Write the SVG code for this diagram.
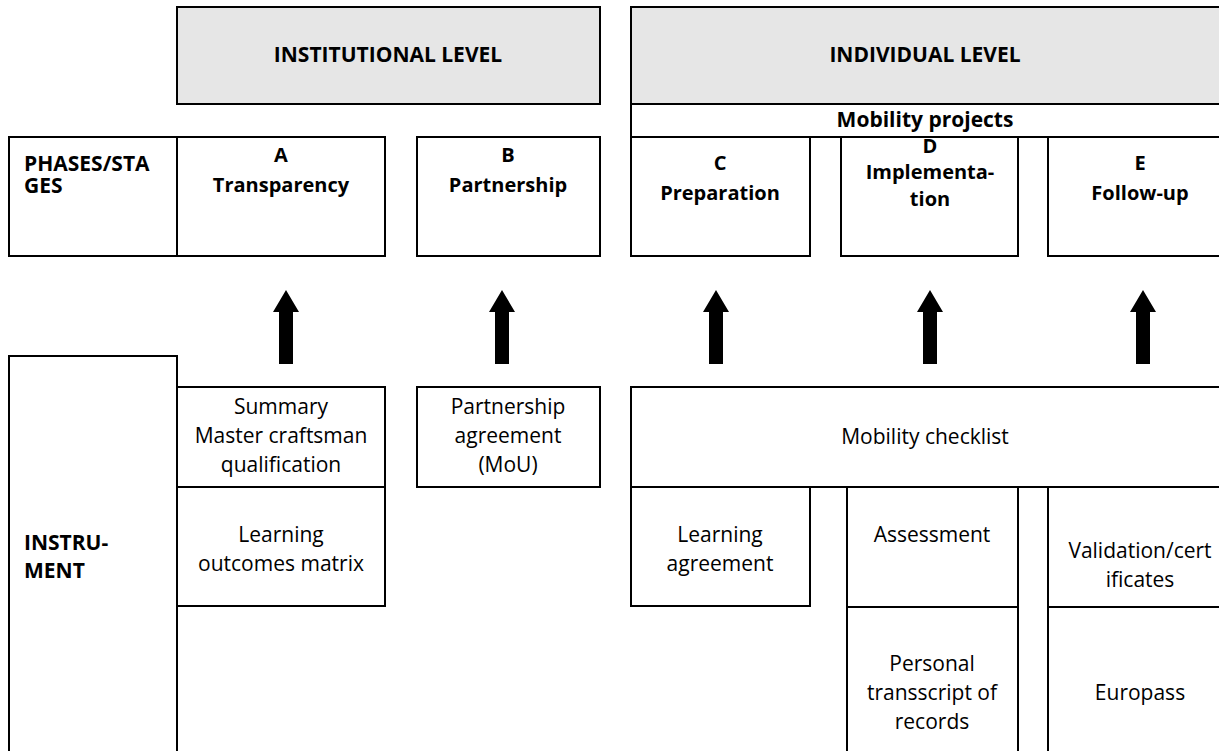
<svg xmlns="http://www.w3.org/2000/svg" width="1219" height="751" viewBox="0 0 1219 751">
<style>
.b{fill:#fff;stroke:#000;stroke-width:2}
.g{fill:#e6e6e6;stroke:#000;stroke-width:2}
text{font-family:"Open Sans","Noto Sans","DejaVu Sans",sans-serif;font-size:21px;fill:#000}
.c{text-anchor:middle}
.h{font-weight:bold}
.p{font-weight:bold;font-size:20px}
.ar{fill:#000}
</style>
<rect width="1219" height="751" fill="#fff"/>
<g id="institutional"><rect class="g" x="177" y="7" width="423" height="97"/><text class="c h" x="388" y="62">INSTITUTIONAL LEVEL</text></g>
<g id="individual"><rect class="g" x="631" y="7" width="600" height="97"/><text class="c h" x="925" y="62">INDIVIDUAL LEVEL</text></g>
<g id="mobility-projects"><rect class="b" x="631" y="104" width="600" height="33"/><text class="c h" x="925" y="127">Mobility projects</text></g>
<g id="phases"><rect class="b" x="9" y="137" width="168" height="119"/><text class="h" x="24" y="171">PHASES/STA</text><text class="h" x="24" y="193">GES</text></g>
<g id="phase-a"><rect class="b" x="177" y="137" width="208" height="119"/><text class="c p" x="281" y="162">A</text><text class="c p" x="281" y="192">Transparency</text></g>
<g id="phase-b"><rect class="b" x="417" y="137" width="183" height="119"/><text class="c p" x="508" y="162">B</text><text class="c p" x="508" y="192">Partnership</text></g>
<g id="phase-c"><rect class="b" x="631" y="137" width="179" height="119"/><text class="c p" x="720" y="170">C</text><text class="c p" x="720" y="200">Preparation</text></g>
<g id="phase-d"><rect class="b" x="841" y="137" width="177" height="119"/><text class="c p" x="930" y="153">D</text><text class="c p" x="930" y="179">Implementa-</text><text class="c p" x="930" y="206">tion</text></g>
<g id="phase-e"><rect class="b" x="1048" y="137" width="183" height="119"/><text class="c p" x="1140" y="170">E</text><text class="c p" x="1140" y="200">Follow-up</text></g>
<g id="connectors">
<polygon class="ar" points="286,290 299,312 293,312 293,364 279,364 279,312 273,312"/>
<polygon class="ar" points="502,290 515,312 509,312 509,364 495,364 495,312 489,312"/>
<polygon class="ar" points="716,290 729,312 723,312 723,364 709,364 709,312 703,312"/>
<polygon class="ar" points="930,290 943,312 937,312 937,364 923,364 923,312 917,312"/>
<polygon class="ar" points="1143,290 1156,312 1150,312 1150,364 1136,364 1136,312 1130,312"/>
</g>
<g id="instrument"><rect class="b" x="9" y="356" width="168" height="410"/><text class="h" x="24" y="550">INSTRU-</text><text class="h" x="24" y="578">MENT</text></g>
<g id="summary"><rect class="b" x="177" y="387" width="208" height="100"/><text class="c" x="281" y="414">Summary</text><text class="c" x="281" y="443">Master craftsman</text><text class="c" x="281" y="472">qualification</text></g>
<g id="lo-matrix"><rect class="b" x="177" y="487" width="208" height="119"/><text class="c" x="281" y="542">Learning</text><text class="c" x="281" y="571">outcomes matrix</text></g>
<g id="partnership-agreement"><rect class="b" x="417" y="387" width="183" height="100"/><text class="c" x="508" y="414">Partnership</text><text class="c" x="508" y="443">agreement</text><text class="c" x="508" y="472">(MoU)</text></g>
<g id="mobility-checklist"><rect class="b" x="631" y="387" width="600" height="100"/><text class="c" x="925" y="444">Mobility checklist</text></g>
<g id="learning-agreement"><rect class="b" x="631" y="487" width="179" height="119"/><text class="c" x="720" y="542">Learning</text><text class="c" x="720" y="571">agreement</text></g>
<g id="assessment"><rect class="b" x="847" y="487" width="171" height="120"/><text class="c" x="932" y="542">Assessment</text></g>
<g id="transcript"><rect class="b" x="847" y="607" width="171" height="160"/><text class="c" x="932" y="671">Personal</text><text class="c" x="932" y="700">transscript of</text><text class="c" x="932" y="729">records</text></g>
<g id="validation"><rect class="b" x="1048" y="487" width="183" height="120"/><text class="c" x="1140" y="558">Validation/cert</text><text class="c" x="1140" y="587">ificates</text></g>
<g id="europass"><rect class="b" x="1048" y="607" width="183" height="160"/><text class="c" x="1140" y="700">Europass</text></g>
</svg>
